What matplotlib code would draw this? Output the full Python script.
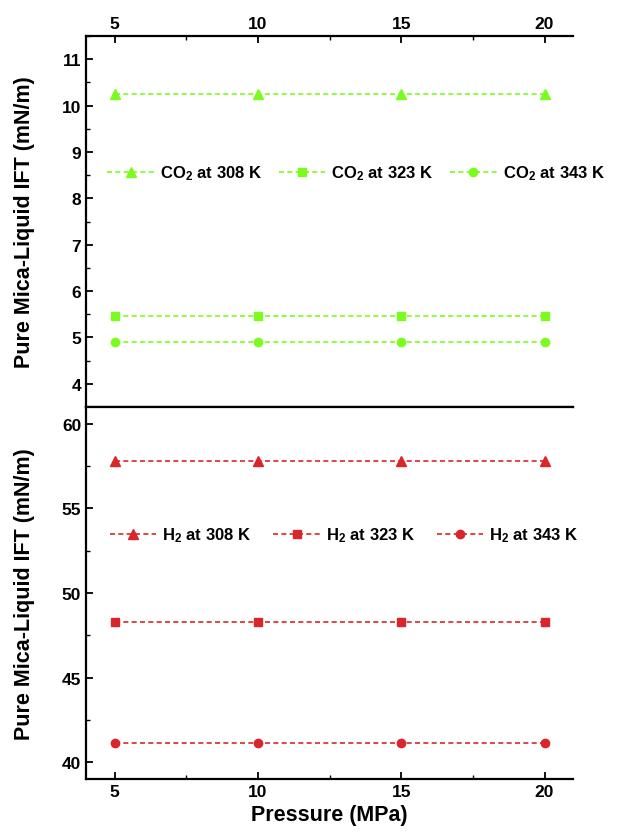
import matplotlib
matplotlib.use("Agg")
import matplotlib.pyplot as plt
from matplotlib.ticker import MultipleLocator

plt.rcParams["font.family"] = ["Liberation Sans", "DejaVu Sans"]
plt.rcParams["font.weight"] = "bold"
plt.rcParams["mathtext.fontset"] = "custom"
plt.rcParams["mathtext.rm"] = "Liberation Sans:bold"
plt.rcParams["mathtext.bf"] = "Liberation Sans:bold"
plt.rcParams["mathtext.default"] = "bf"

pressure = [5, 10, 15, 20]
temps = ["308 K", "323 K", "343 K"]
markers = ["^", "s", "o"]
co2_ift = [
    [10.25, 10.25, 10.25, 10.25],
    [5.47, 5.47, 5.47, 5.47],
    [4.90, 4.90, 4.90, 4.90],
]
h2_ift = [
    [57.8, 57.8, 57.8, 57.8],
    [48.3, 48.3, 48.3, 48.3],
    [41.1, 41.1, 41.1, 41.1],
]
green = "#7CFC1E"
red = "#D9262A"

fig = plt.figure(figsize=(6.19, 8.37), dpi=100)
ax_top = fig.add_axes([0.139, 0.5125, 0.787, 0.4433])
ax_bot = fig.add_axes([0.139, 0.0681, 0.787, 0.4444])


def style_axis(ax):
    ax.spines["right"].set_visible(False)
    for s in ["left", "top", "bottom"]:
        ax.spines[s].set_linewidth(1.6)
    ax.set_xlim(4, 21)
    ax.xaxis.set_major_locator(MultipleLocator(5))
    ax.xaxis.set_minor_locator(MultipleLocator(2.5))
    ax.tick_params(which="major", direction="in", length=5, width=1.3,
                   labelsize=12.5)
    ax.tick_params(which="minor", direction="in", length=3, width=1.0)
    ax.set_ylabel("Pure Mica-Liquid IFT (mN/m)", fontsize=15.5,
                  fontweight="bold")
    ax.yaxis.set_label_coords(-0.105, 0.5)


# top panel: CO2
for vals, t, m in zip(co2_ift, temps, markers):
    ax_top.plot(pressure, vals, color=green, marker=m,
                markersize=7 if m == "^" else 6,
                linestyle=(0, (3, 2)), linewidth=1.2,
                label="CO$_2$ at " + t)
style_axis(ax_top)
ax_top.set_ylim(3.5, 11.5)
ax_top.yaxis.set_major_locator(MultipleLocator(1))
ax_top.yaxis.set_minor_locator(MultipleLocator(0.5))
ax_top.xaxis.tick_top()
ax_top.tick_params(axis="x", which="both", top=True, bottom=False)
ax_top.legend(loc="center left", bbox_to_anchor=(0.03, 0.631), ncol=3,
              frameon=False, fontsize=12, handlelength=2.8,
              handletextpad=0.35, columnspacing=1.0, borderaxespad=0)

# bottom panel: H2
for vals, t, m in zip(h2_ift, temps, markers):
    ax_bot.plot(pressure, vals, color=red, marker=m,
                markersize=7 if m == "^" else 6,
                linestyle=(0, (3, 2)), linewidth=1.2,
                label="H$_2$ at " + t)
style_axis(ax_bot)
ax_bot.set_ylim(39, 61)
ax_bot.yaxis.set_major_locator(MultipleLocator(5))
ax_bot.yaxis.set_minor_locator(MultipleLocator(2.5))
ax_bot.tick_params(axis="x", which="both", top=False, bottom=True)
ax_bot.set_xlabel("Pressure (MPa)", fontsize=15.5, fontweight="bold")
ax_bot.legend(loc="center left", bbox_to_anchor=(0.035, 0.656), ncol=3,
              frameon=False, fontsize=12, handlelength=2.8,
              handletextpad=0.35, columnspacing=1.3, borderaxespad=0)

fig.savefig("out.png", dpi=100)
